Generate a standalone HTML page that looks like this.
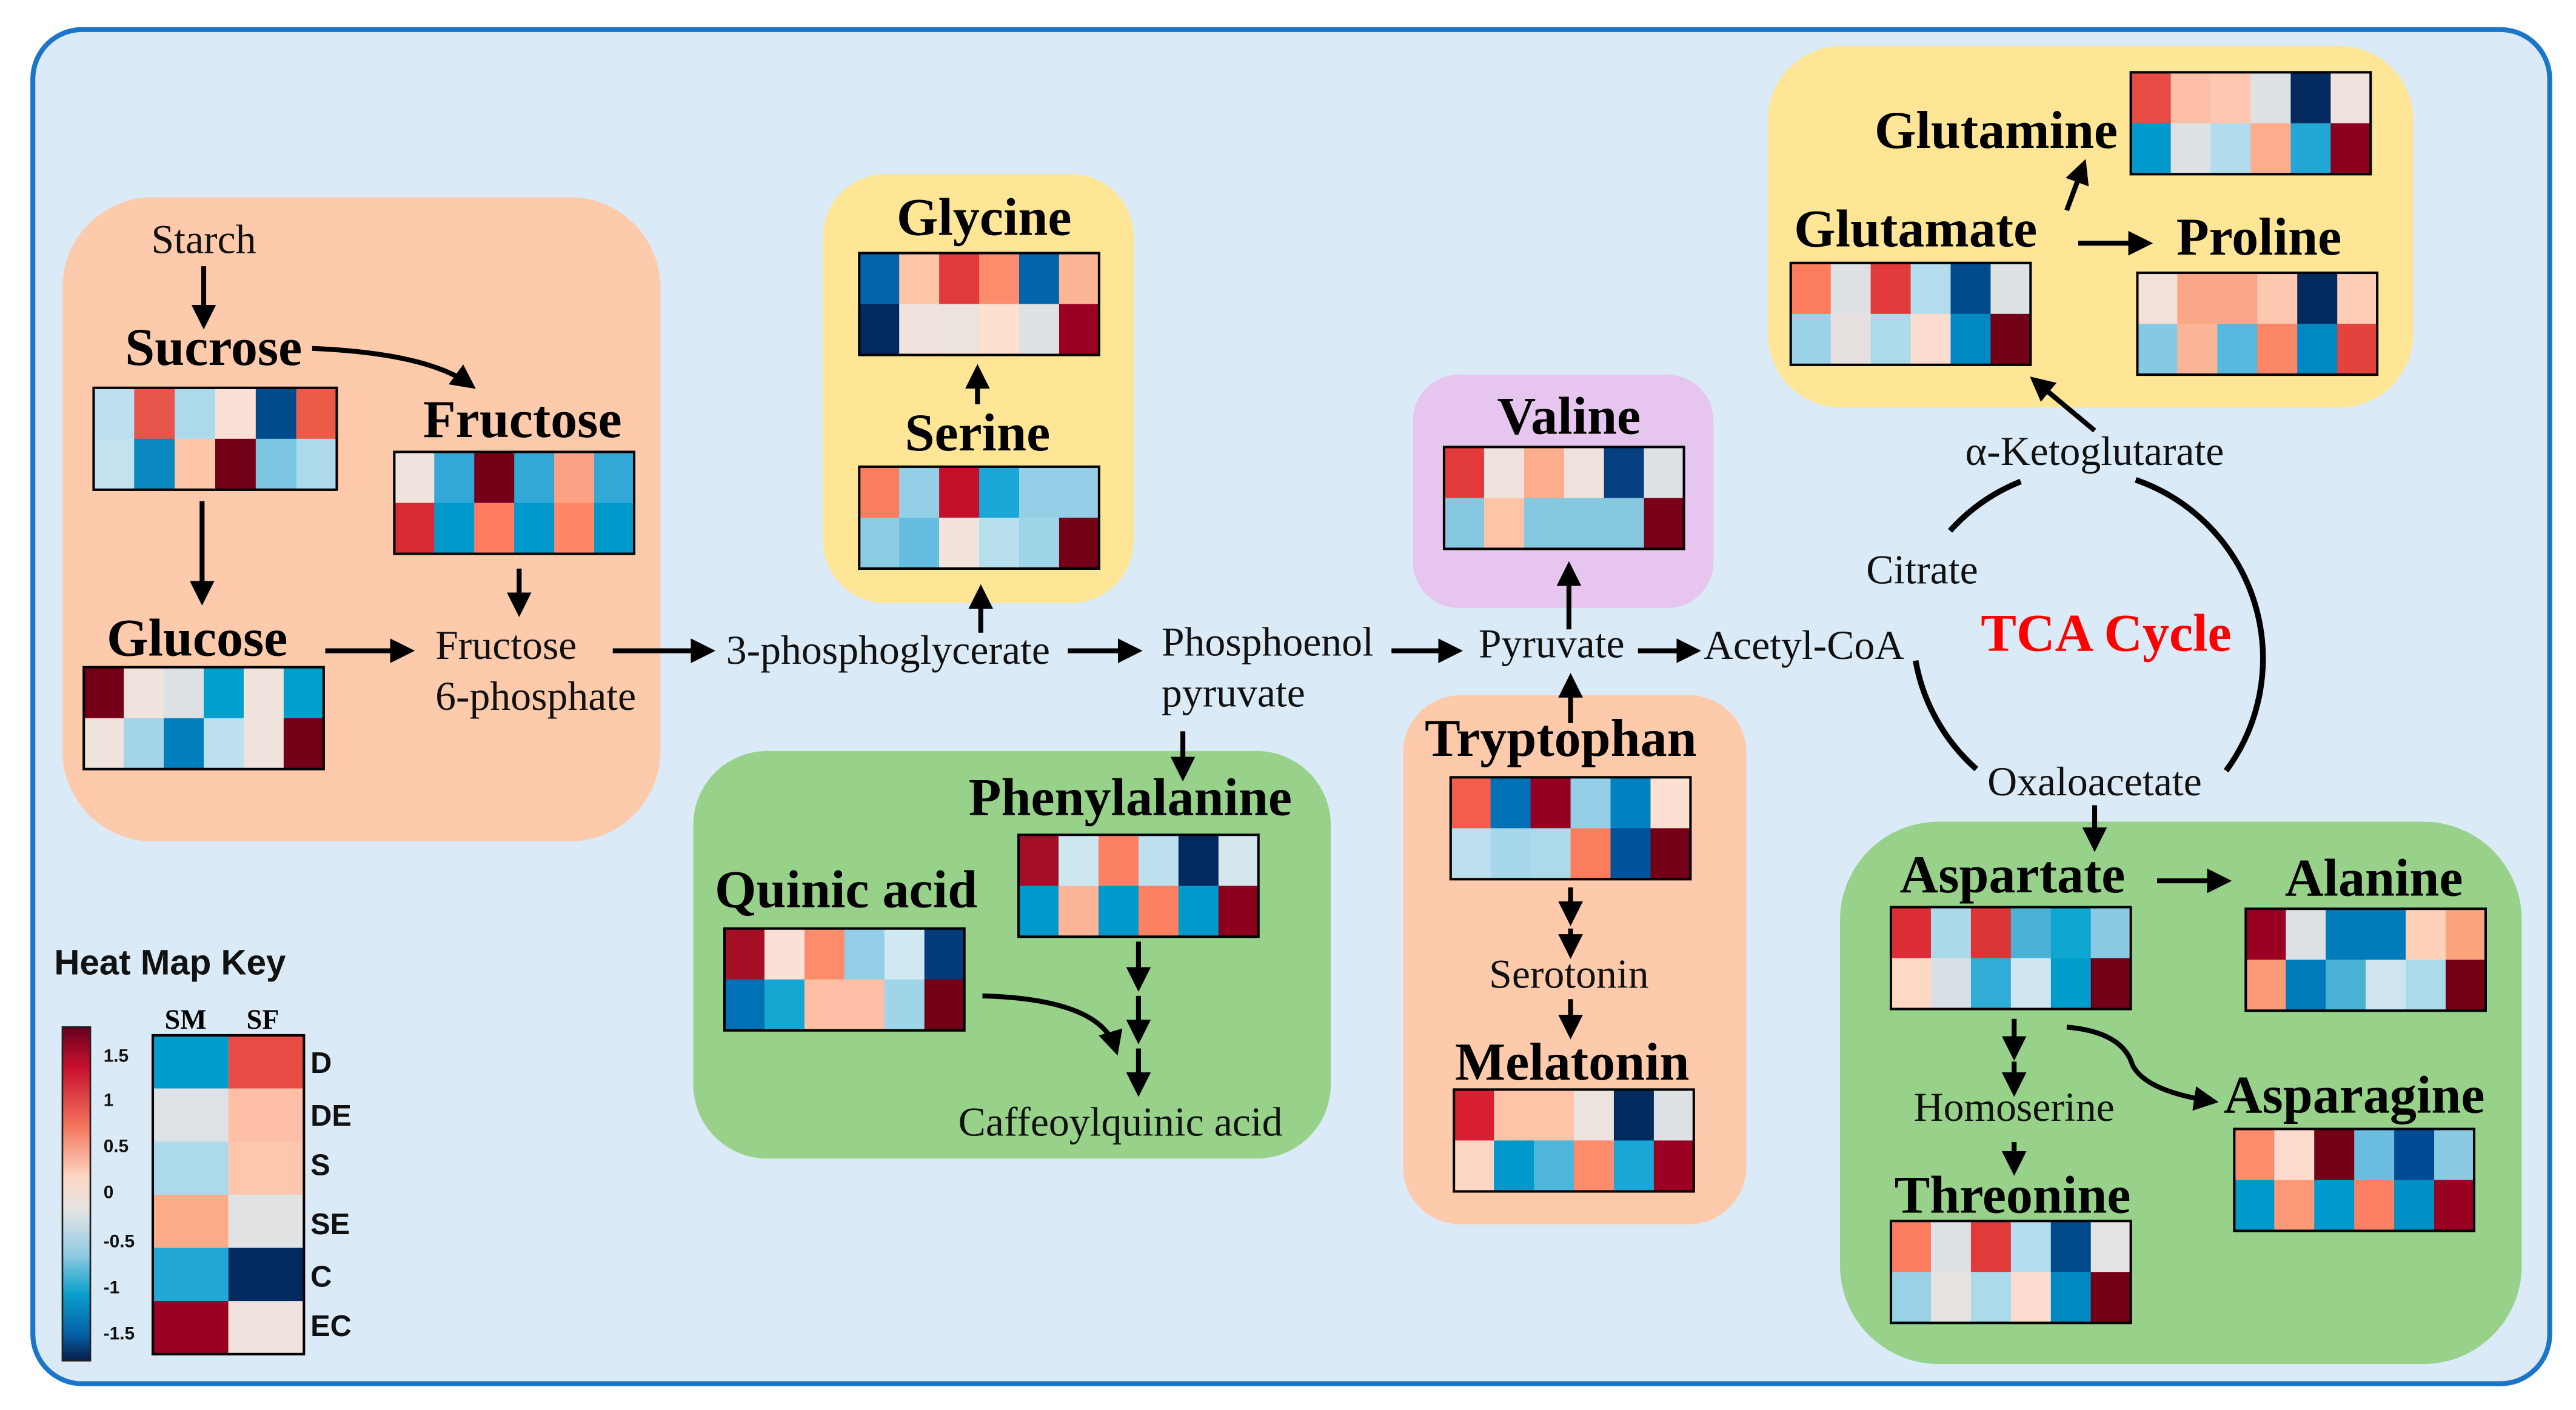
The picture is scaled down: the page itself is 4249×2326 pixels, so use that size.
<!DOCTYPE html>
<html><head><meta charset="utf-8">
<style>
html,body{margin:0;padding:0;background:#fff;}
svg{display:block;}
.t{font-family:"Liberation Serif",serif;font-weight:bold;font-size:32.5px;fill:#000;text-anchor:middle;}
.n{font-family:"Liberation Serif",serif;font-size:25px;fill:#111;}
.k{font-family:"Liberation Sans",sans-serif;font-weight:bold;fill:#111;}
</style></head><body>
<svg id="s" width="4249" height="2326" viewBox="0 0 1568 858" preserveAspectRatio="none" xmlns="http://www.w3.org/2000/svg">
<defs>
<marker id="a" markerWidth="5" markerHeight="5" refX="3.5" refY="2.5" orient="auto" markerUnits="strokeWidth"><path d="M0,0 L5,2.5 L0,5 z" fill="#000"/></marker>
<linearGradient id="cb" x1="0" y1="0" x2="0" y2="1">
<stop offset="0" stop-color="#67001f"/><stop offset="0.12" stop-color="#c8102e"/><stop offset="0.3" stop-color="#f4775c"/><stop offset="0.45" stop-color="#fcd7c4"/><stop offset="0.55" stop-color="#e4e4e4"/><stop offset="0.68" stop-color="#92cbe2"/><stop offset="0.8" stop-color="#0aa0cc"/><stop offset="0.92" stop-color="#0560a6"/><stop offset="1" stop-color="#061d4a"/>
</linearGradient>
</defs>
<rect x="20" y="18" width="1532" height="824" rx="30" fill="#dbeaf7" stroke="#1b75c8" stroke-width="3"/>
<rect x="38" y="120" width="364" height="392" rx="55" fill="#fdcbab"/>
<rect x="501" y="106" width="189" height="261" rx="38" fill="#fee696"/>
<rect x="422" y="457" width="388" height="248" rx="45" fill="#97d18a"/>
<rect x="860" y="228" width="183" height="142" rx="28" fill="#e6c6ef"/>
<rect x="854" y="423" width="209" height="322" rx="35" fill="#fdcbab"/>
<rect x="1076" y="28" width="393" height="220" rx="45" fill="#fee696"/>
<rect x="1120" y="500" width="415" height="330" rx="60" fill="#97d18a"/>
<g id="hm"></g>
<g stroke="#000" stroke-width="3" fill="none" marker-end="url(#a)">
<path d="M124,162 V196"/>
<path d="M190,212 Q260,215 286,234"/>
<path d="M123,305 V364"/>
<path d="M316,346 V371"/>
<path d="M198,396 H248"/>
<path d="M373,396 H431"/>
<path d="M597,385 V360"/>
<path d="M595,246 V226"/>
<path d="M650,396 H691"/>
<path d="M720,445 V471"/>
<path d="M693,573 V599"/>
<path d="M693,606 V631"/>
<path d="M693,638 V663"/>
<path d="M598,606 Q670,608 679,638"/>
<path d="M847,396 H886"/>
<path d="M955,383 V346"/>
<path d="M956,440 V414"/>
<path d="M956,540 V559"/>
<path d="M956,565 V579"/>
<path d="M956,608 V628"/>
<path d="M997,396 H1031"/>
<path d="M1275,262 L1239,232"/>
<path d="M1258,128 L1268,101"/>
<path d="M1265,148 H1306"/>
<path d="M1275,490 V514"/>
<path d="M1313,536 H1354"/>
<path d="M1226,620 V641"/>
<path d="M1226,646 V663"/>
<path d="M1226,695 V711"/>
<path d="M1258,625 Q1292,628 1298,648 Q1306,664 1346,670"/>
</g>
<g stroke="#000" stroke-width="3.5" fill="none">
<path d="M1187,323 A115,115 0 0 1 1230,293"/>
<path d="M1300,292 A115,115 0 0 1 1355,469"/>
<path d="M1166,402 A115,115 0 0 0 1203,468"/>
</g>
<text class="n" x="124" y="154" text-anchor="middle">Starch</text>
<text class="t" x="130" y="222">Sucrose</text>
<text class="t" x="318" y="266">Fructose</text>
<text class="t" x="120" y="399">Glucose</text>
<text class="n" x="265" y="401">Fructose</text>
<text class="n" x="265" y="432">6-phosphate</text>
<text class="n" x="442" y="404">3-phosphoglycerate</text>
<text class="t" x="599" y="143">Glycine</text>
<text class="t" x="595" y="274">Serine</text>
<text class="n" x="707" y="399">Phosphoenol</text>
<text class="n" x="707" y="430">pyruvate</text>
<text class="t" x="688" y="496">Phenylalanine</text>
<text class="t" x="515" y="552">Quinic acid</text>
<text class="n" x="682" y="691" text-anchor="middle">Caffeoylquinic acid</text>
<text class="n" x="900" y="400">Pyruvate</text>
<text class="t" x="955" y="264">Valine</text>
<text class="t" x="950" y="460">Tryptophan</text>
<text class="n" x="955" y="601" text-anchor="middle">Serotonin</text>
<text class="t" x="957" y="657">Melatonin</text>
<text class="n" x="1037" y="401">Acetyl-CoA</text>
<text class="n" x="1170" y="355" text-anchor="middle">Citrate</text>
<text x="1282" y="396" style="font-family:'Liberation Serif',serif;font-weight:bold;font-size:32.5px;fill:#f00;text-anchor:middle">TCA Cycle</text>
<text class="n" x="1275" y="283" text-anchor="middle">α-Ketoglutarate</text>
<text class="n" x="1275" y="484" text-anchor="middle">Oxaloacetate</text>
<text class="t" x="1215" y="90">Glutamine</text>
<text class="t" x="1166" y="150">Glutamate</text>
<text class="t" x="1375" y="155">Proline</text>
<text class="t" x="1225" y="543">Aspartate</text>
<text class="t" x="1445" y="545">Alanine</text>
<text class="n" x="1226" y="682" text-anchor="middle">Homoserine</text>
<text class="t" x="1225" y="738">Threonine</text>
<text class="t" x="1433" y="677">Asparagine</text>
<text class="k" x="33" y="593" font-size="21.5">Heat Map Key</text>
<text x="113" y="626" style="font-family:'Liberation Serif',serif;font-weight:bold;font-size:17px;text-anchor:middle">SM</text>
<text x="160" y="626" style="font-family:'Liberation Serif',serif;font-weight:bold;font-size:17px;text-anchor:middle">SF</text>
<rect x="38" y="625" width="17" height="203" fill="url(#cb)" stroke="#222" stroke-width="1"/>
<g class="k" font-size="11">
<text x="63" y="646">1.5</text><text x="63" y="673">1</text><text x="63" y="701">0.5</text><text x="63" y="729">0</text>
<text x="63" y="759">-0.5</text><text x="63" y="787">-1</text><text x="63" y="815">-1.5</text>
</g>
<g class="k" font-size="18">
<text x="189" y="653">D</text><text x="189" y="685">DE</text><text x="189" y="715">S</text>
<text x="189" y="751">SE</text><text x="189" y="783">C</text><text x="189" y="813">EC</text>
</g>
</svg>
<script>
var g='#dde1e4',w='#f0e2dc',p='#fdc4a8',DR='#730017';
var H=[
[57,236,148,62,['#bde0ef','#e8554a','#acdaea','#fbe0d8','#004b8c','#ec5a48'],['#c5e3ef','#0a88c2','#fdc4a8',DR,'#7ec7e3','#acdaea']],
[240,275,146,62,[w,'#33a8d6',DR,'#33a8d6','#fca183','#33a8d6'],['#d82b35','#0099cc','#fd7c60','#0099cc','#fd8766','#0099cc']],
[51,406,146,62,[DR,w,g,'#00a0cc',w,'#00a0cc'],[w,'#a3d4e8','#007fbd','#bde0ef',w,DR]],
[523,154,146,62,['#0565ac',p,'#e23a3a','#fc8c6c','#0565ac','#fdb596'],['#022a5e',w,'#ece3df','#fde0d0',g,'#9a0022']],
[523,284,146,62,['#fc7d5e','#93d0e8','#c40f2b','#1aa6d6','#93d0e8','#93d0e8'],['#8bcbe3','#65bde0','#f3e4db','#b7dfee','#9fd5e8',DR]],
[879,272,146,62,['#e23a3a',w,'#fdad8c',w,'#053f80',g],['#85c8e0',p,'#85c8e0','#85c8e0','#85c8e0','#7a0019']],
[620,508,146,62,['#a50f25','#cde7f1','#fc8062','#bde0ef','#022a5e','#d5e7ee'],['#0099cc','#fdb597','#0099cc','#fc8062','#0099cc','#8a001d']],
[441,565,146,62,['#a50f25','#fbe0d6','#fc8c6c','#93d0e8','#d0e8f0','#043b7a'],['#0071b5','#16a6d2','#fdc0a6','#fdc0a6','#9fd5e8',DR]],
[883,473,146,62,['#f35d4b','#0071b5','#930022','#93d0e8','#0082c0','#fde0d2'],['#bde0ef','#a6d7ea','#acdaea','#fc7d5e','#01549c',DR]],
[885,663,146,62,['#d81f32',p,p,'#ece3df','#032a5e',g],['#fdd7c6','#0099cc','#4eb5db','#fc8c6c','#1aa6d6','#9a0022']],
[1297,44,146,62,['#e84a44','#fdc0a6','#fdc7b0',g,'#022a5e',w],['#0099cc',g,'#b0dcec','#fdad8c','#23a7d6','#8a001d']],
[1090,160,146,62,['#fc7d5e',g,'#e23a3a','#b3dced','#004b8c',g],['#99d1e6','#e6e0de','#acdaea','#fddcd0','#0088c2',DR]],
[1301,166,146,62,['#f3e0d8','#fca688','#fca688','#fdc7b0','#022a5e','#fdcdb5'],['#87c9e2','#fdb597','#55b8dc','#fc8766','#0088c2','#e4433d']],
[1151,552,146,62,['#dc2c36','#abd9ea','#dc3538','#4bb2d6','#0ea6d0','#8acbe3'],['#fed8c4','#d8e0e6','#2fadd6','#cfe6f0','#009ecd',DR]],
[1367,553,146,62,['#9a0022',g,'#007bba','#007bba','#fdd0b8','#fca47e'],['#fc9a78','#007bba','#4bb2d6','#d0e4ee','#acdaea',DR]],
[1360,687,146,62,['#fc8c6c','#fddccd',DR,'#6bbde0','#004b94','#8acbe3'],['#0099cc','#fc9a78','#0099cc','#fc8062','#0090c6','#9a0022']],
[1151,743,146,62,['#fc7d5e',g,'#e23a3a','#b3dced','#004b8c','#e4e4e4'],['#99d1e6','#e6e2e0','#acdaea','#fddcd0','#0088c2',DR]]
];
var s='';
H.forEach(function(h){var cw=h[2]/6,ch=h[3]/2;
for(var r=0;r<2;r++)for(var c=0;c<6;c++)s+='<rect x="'+(h[0]+c*cw)+'" y="'+(h[1]+r*ch)+'" width="'+(cw+0.3)+'" height="'+(ch+0.3)+'" fill="'+h[4+r][c]+'"/>';
s+='<rect x="'+h[0]+'" y="'+h[1]+'" width="'+h[2]+'" height="'+h[3]+'" fill="none" stroke="#000" stroke-width="1.5"/>';});
var SM=['#009ecd','#dde2e6','#acdaea','#fdac8a','#23a7d6','#9a0022'],SF=['#e84a44','#fdc0a6','#fdc7ad','#e0e2e4','#022a5e','#eee2dc'];
var kh=194/6;
for(var i=0;i<6;i++){s+='<rect x="93" y="'+(630+i*kh)+'" width="46" height="'+(kh+0.3)+'" fill="'+SM[i]+'"/><rect x="139" y="'+(630+i*kh)+'" width="46" height="'+(kh+0.3)+'" fill="'+SF[i]+'"/>';}
s+='<rect x="93" y="630" width="92" height="194" fill="none" stroke="#000" stroke-width="1.5"/>';
document.getElementById('hm').innerHTML=s;
</script>
</body></html>
